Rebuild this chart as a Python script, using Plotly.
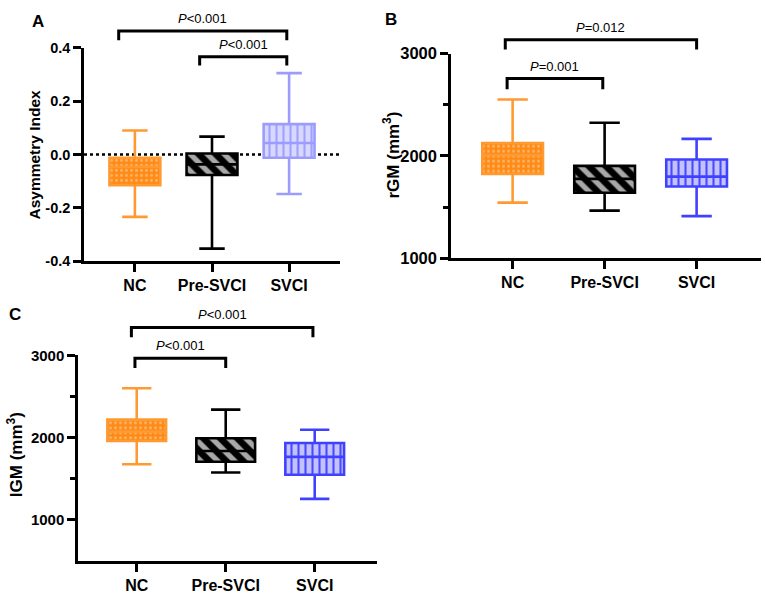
import plotly.graph_objects as go

groups = ["NC", "Pre-SVCI", "SVCI"]

# Panel A: Asymmetry Index (lower whisker, Q1, median, Q3, upper whisker)
a_lower = [-0.234, -0.353, -0.148]
a_q1 = [-0.115, -0.077, -0.012]
a_median = [-0.046, -0.037, 0.043]
a_q3 = [-0.012, 0.004, 0.114]
a_upper = [0.090, 0.067, 0.305]

# Panel B: rGM (mm3)
b_lower = [1544, 1466, 1412]
b_q1 = [1824, 1640, 1702]
b_median = [2008, 1776, 1798]
b_q3 = [2126, 1903, 1965]
b_upper = [2551, 2325, 2167]

# Panel C: lGM (mm3)
c_lower = [1676, 1575, 1255]
c_q1 = [1958, 1705, 1547]
c_median = [2072, 1836, 1765]
c_q3 = [2218, 1992, 1934]
c_upper = [2600, 2339, 2094]

# significance labels
a_pvals = ["<i>P</i>&lt;0.001", "<i>P</i>&lt;0.001"]
b_pvals = ["<i>P</i>=0.012", "<i>P</i>=0.001"]
c_pvals = ["<i>P</i>&lt;0.001", "<i>P</i>&lt;0.001"]

W, H = 765, 600
FONT = "Arial, Liberation Sans, sans-serif"


def px_x(p):
    return p / W


def px_y(p):
    return 1 - p / H


styles_default = [
    dict(line="#FF9A33", bg="#FF8A14", fg="#FFB266", shape=".", size=5, sol=0.3),
    dict(line="#000000", bg="#000000", fg="#A8A8A8", shape="\\", size=12, sol=0.45),
    dict(line="#4040FF", bg="#C2C2FF", fg="#4A4AFF", shape="|", size=7, sol=0.3),
]
styles_a = [
    styles_default[0],
    styles_default[1],
    dict(line="#9C9CFF", bg="#D8D8FF", fg="#A0A0FF", shape="|", size=7, sol=0.3),
]

fig = go.Figure()

BOXW = 0.66
pos = list(range(len(groups)))


def add_panel(k, lower, q1, med, q3, upper, styles):
    xa = "x" if k == 1 else f"x{k}"
    ya = "y" if k == 1 else f"y{k}"
    for i, s in enumerate(styles):
        # patterned fill of the box
        fig.add_trace(go.Bar(
            x=[pos[i]], y=[q3[i] - q1[i]], base=[q1[i]], width=BOXW,
            marker=dict(
                color=s["bg"],
                line=dict(width=0),
                pattern=dict(shape=s["shape"], fgcolor=s["fg"], bgcolor=s["bg"],
                             size=s["size"], solidity=s["sol"], fgopacity=1,
                             fillmode="overlay"),
            ),
            xaxis=xa, yaxis=ya, showlegend=False, hoverinfo="skip",
        ))
    for i, s in enumerate(styles):
        fig.add_trace(go.Box(
            x=[pos[i]], q1=[q1[i]], median=[med[i]], q3=[q3[i]],
            lowerfence=[lower[i]], upperfence=[upper[i]],
            width=BOXW, whiskerwidth=0.5,
            line=dict(color=s["line"], width=2.6),
            fillcolor="rgba(0,0,0,0)", boxpoints=False,
            xaxis=xa, yaxis=ya, showlegend=False, name=groups[i],
        ))


add_panel(1, a_lower, a_q1, a_median, a_q3, a_upper, styles_a)
add_panel(2, b_lower, b_q1, b_median, b_q3, b_upper, styles_default)
add_panel(3, c_lower, c_q1, c_median, c_q3, c_upper, styles_default)

axis_common = dict(
    showline=True, linecolor="black", linewidth=2.5, ticks="outside",
    tickcolor="black", tickwidth=2.5, ticklen=8, showgrid=False,
    zeroline=False, mirror=False,
)

xcommon = dict(axis_common, tickmode="array", tickvals=pos, ticktext=groups,
               tickfont=dict(family=FONT, size=16, color="black", weight="bold"))

fig.update_layout(
    width=W, height=H, margin=dict(l=0, r=0, t=0, b=0),
    paper_bgcolor="white", plot_bgcolor="white",
    barmode="overlay", boxmode="overlay",
    xaxis=dict(xcommon, domain=[px_x(84), px_x(340)], range=[-0.66, 2.66], anchor="y"),
    yaxis=dict(axis_common, domain=[px_y(260), px_y(40)], range=[-0.4, 0.4],
               tickvals=[-0.4, -0.2, 0.0, 0.2, 0.4],
               ticktext=["-0.4", "-0.2", "0.0", "0.2", "0.4"],
               tickfont=dict(family=FONT, size=14.5, color="black", weight="bold"),
               anchor="x"),
    xaxis2=dict(xcommon, domain=[px_x(451), px_x(761)], range=[-0.67, 2.70], anchor="y2"),
    yaxis2=dict(axis_common, domain=[px_y(257), px_y(46)], range=[1000, 3000],
                tickvals=[1000, 2000, 3000],
                minor=dict(tickmode="array", tickvals=[1500, 2500], ticks="outside",
                           ticklen=5, tickwidth=2.5, tickcolor="black"),
                tickfont=dict(family=FONT, size=16.5, color="black", weight="bold"),
                anchor="x2"),
    xaxis3=dict(xcommon, domain=[px_x(78), px_x(377)], range=[-0.66, 2.70], anchor="y3"),
    yaxis3=dict(axis_common, domain=[px_y(569), px_y(357)], range=[500, 3000],
                tickvals=[1000, 2000, 3000],
                minor=dict(tickmode="array", tickvals=[1500, 2500], ticks="outside",
                           ticklen=5, tickwidth=2.5, tickcolor="black"),
                tickfont=dict(family=FONT, size=15, color="black", weight="bold"),
                anchor="x3"),
)

# dotted zero line in panel A
fig.add_shape(type="line", xref="x domain", yref="y", x0=0, x1=1, y0=0, y1=0,
              line=dict(color="black", width=2.5, dash="dot"), layer="below")


def bracket(xref, x0, x1, ybar_px, yleg_px, text):
    yb, yl = px_y(ybar_px), px_y(yleg_px)
    fig.add_shape(type="path", xref=xref, yref="paper",
                  path=f"M {x0},{yl} L {x0},{yb} L {x1},{yb} L {x1},{yl}",
                  line=dict(color="black", width=3))
    fig.add_annotation(xref=xref, yref="paper", x=(x0 + x1) / 2, y=yb,
                       yshift=3, text=text, showarrow=False, yanchor="bottom",
                       font=dict(family=FONT, size=13, color="black"))


bracket("x", -0.21, 1.97, 22.7, 32.3, a_pvals[0])
bracket("x", 0.84, 1.97, 49.3, 58.3, a_pvals[1])
bracket("x2", -0.08, 2.0, 31.7, 41.7, b_pvals[0])
bracket("x2", -0.06, 0.98, 71.7, 82.7, b_pvals[1])
bracket("x3", -0.06, 1.98, 328.3, 338.3, c_pvals[0])
bracket("x3", -0.02, 1.0, 360, 370, c_pvals[1])

# axis titles
titles = [
    ("Asymmetry Index", 34, 150, 15.5),
    ("rGM (mm<sup>3</sup>)", 391, 150, 17),
    ("lGM (mm<sup>3</sup>)", 15, 460, 17),
]
for t, xp, yp, fs in titles:
    fig.add_annotation(xref="paper", yref="paper", x=px_x(xp), y=px_y(yp), text=t,
                       textangle=-90, showarrow=False, xanchor="center", yanchor="middle",
                       font=dict(family=FONT, size=fs, color="black", weight="bold"))

# panel letters
for t, xp, yp in [("A", 38, 12.5), ("B", 391, 11), ("C", 15, 315)]:
    fig.add_annotation(xref="paper", yref="paper", x=px_x(xp), y=px_y(yp), text=t,
                       showarrow=False, xanchor="center", yanchor="middle",
                       font=dict(family=FONT, size=17, color="black", weight="bold"))

fig.write_html(
    "out.html",
    config={"displayModeBar": False},
    post_script="document.body.style.margin='0';document.body.style.padding='0';",
)
